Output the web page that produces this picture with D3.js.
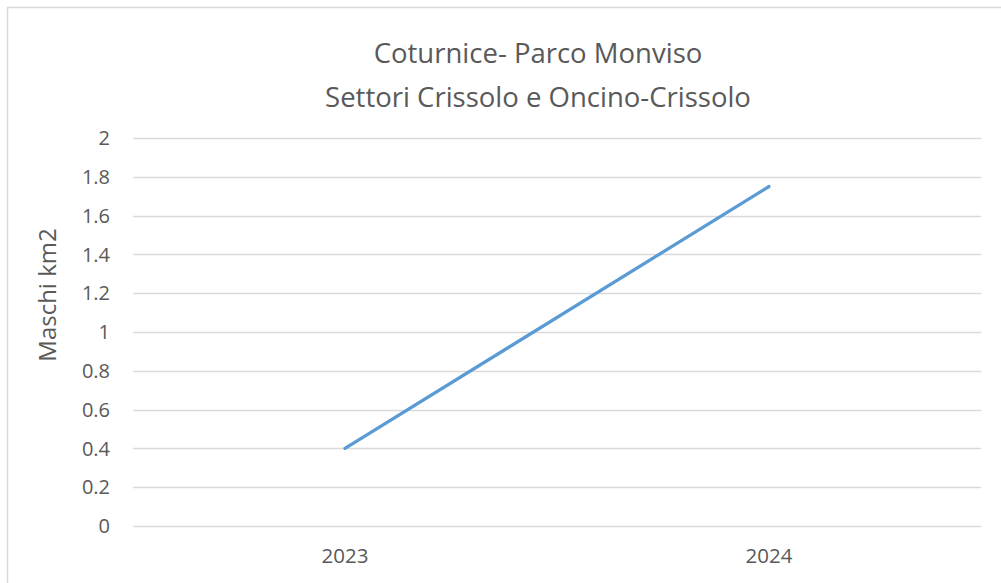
<!DOCTYPE html>
<html>
<head>
<meta charset="utf-8">
<script src="https://cdn.jsdelivr.net/npm/d3@7"></script>
<style>
  body { margin: 0; background: #fff; }
  text { font-family: "Open Sans", sans-serif; fill: #595959; }
</style>
</head>
<body>
<svg width="1001" height="583"></svg>
<script>
var years = ["2023", "2024"];
var values = [0.4, 1.75];
var yTicks = [0, 0.2, 0.4, 0.6, 0.8, 1, 1.2, 1.4, 1.6, 1.8, 2];
var titleLines = ["Coturnice- Parco Monviso", "Settori Crissolo e Oncino-Crissolo"];
var yLabel = "Maschi km2";

var svg = d3.select("svg"),
    width = +svg.attr("width"),
    height = +svg.attr("height");

var plotLeft = 133, plotRight = 981, plotTop = 138, plotBottom = 526;

// chart frame
svg.append("rect")
  .attr("x", 7.5).attr("y", 7.5)
  .attr("width", 1010).attr("height", 600)
  .attr("fill", "none")
  .attr("stroke", "#d9d9d9")
  .attr("stroke-width", 1.5);

var x = d3.scaleBand().domain(years).range([plotLeft, plotRight]);
var y = d3.scaleLinear().domain([0, 2]).range([plotBottom, plotTop]);

// gridlines
svg.append("g")
  .selectAll("line")
  .data(yTicks)
  .enter().append("line")
    .attr("x1", plotLeft).attr("x2", plotRight)
    .attr("y1", function(d) { return Math.round(y(d)) + 0.5; })
    .attr("y2", function(d) { return Math.round(y(d)) + 0.5; })
    .attr("stroke", "#d9d9d9")
    .attr("stroke-width", 1.5);

// y tick labels
svg.append("g")
  .selectAll("text")
  .data(yTicks)
  .enter().append("text")
    .attr("x", 110)
    .attr("y", function(d) { return y(d); })
    .attr("dy", "0.36em")
    .attr("text-anchor", "end")
    .style("font-size", "20px")
    .text(function(d) { return d3.format("")(d); });

// x labels
svg.append("g")
  .selectAll("text")
  .data(years)
  .enter().append("text")
    .attr("x", function(d) { return x(d) + x.bandwidth() / 2; })
    .attr("y", 563)
    .attr("text-anchor", "middle")
    .style("font-size", "20.5px")
    .text(function(d) { return d; });

// line
var line = d3.line()
  .x(function(d, i) { return x(years[i]) + x.bandwidth() / 2; })
  .y(function(d) { return y(d); });

svg.append("path")
  .datum(values)
  .attr("d", line)
  .attr("fill", "none")
  .attr("stroke", "#5b9bd5")
  .attr("stroke-width", 3.25)
  .attr("stroke-linecap", "round");

// title
svg.append("g")
  .selectAll("text")
  .data(titleLines)
  .enter().append("text")
    .attr("x", 538)
    .attr("y", function(d, i) { return 63 + i * 44; })
    .attr("text-anchor", "middle")
    .style("font-size", "27.5px")
    .text(function(d) { return d; });

// y axis title
svg.append("text")
  .attr("transform", "translate(56,295) rotate(-90)")
  .attr("text-anchor", "middle")
  .style("font-size", "24px")
  .text(yLabel);
</script>
</body>
</html>
